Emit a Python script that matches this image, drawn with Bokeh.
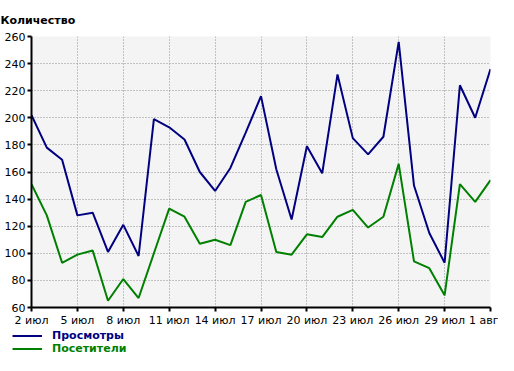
from bokeh.plotting import figure
from bokeh.layouts import column, row
from bokeh.models import Range1d, FixedTicker, Legend, LegendItem
from bokeh.embed import file_html
from bokeh.resources import INLINE

# Data (2 июл .. 1 авг)
days = list(range(31))
views = [202, 178, 169, 128, 130, 101, 121, 98, 199, 193, 184, 160, 146, 163, 189, 216,
         162, 125, 179, 159, 232, 185, 173, 186, 256, 150, 115, 93, 224, 200, 236]
visitors = [151, 128, 93, 99, 102, 65, 81, 67, 100, 133, 127, 107, 110, 106, 138, 143,
            101, 99, 114, 112, 127, 132, 119, 127, 166, 94, 89, 69, 151, 138, 154]
tick_pos = [0, 3, 6, 9, 12, 15, 18, 21, 24, 27, 30]
tick_labels = ["2 июл", "5 июл", "8 июл", "11 июл", "14 июл", "17 июл", "20 июл",
               "23 июл", "26 июл", "29 июл", "1 авг"]
y_ticks = [60, 80, 100, 120, 140, 160, 180, 200, 220, 240, 260]
series_names = ["Просмотры", "Посетители"]
series_colors = ["#000080", "#008000"]

FONT = "DejaVu Sans"

p = figure(width=498, height=329, output_backend="svg", toolbar_location=None,
           x_range=Range1d(0, 30), y_range=Range1d(60, 260),
           min_border_left=31, min_border_right=8, min_border_top=36, min_border_bottom=18)
p.background_fill_color = "#f4f4f4"
p.border_fill_color = "white"
p.outline_line_color = None

p.title.text = "Количество"
p.title.text_font = FONT
p.title.text_font_size = "11px"
p.title.text_font_style = "bold"
p.title.text_color = "black"
p.title.align = "left"
p.title.offset = -31
p.title.standoff = 19

for ax in (p.xaxis[0], p.yaxis[0]):
    ax.axis_line_color = "black"
    ax.axis_line_width = 2
    ax.major_tick_line_color = "black"
    ax.major_tick_line_width = 2
    ax.major_tick_in = 0
    ax.major_tick_out = 4
    ax.minor_tick_line_color = None
    ax.major_label_text_font = FONT
    ax.major_label_text_font_size = "11px"
    ax.major_label_text_color = "black"
    ax.major_label_standoff = 2

p.xaxis.ticker = FixedTicker(ticks=tick_pos)
p.xaxis.major_label_overrides = {t: l for t, l in zip(tick_pos, tick_labels)}
p.yaxis.ticker = FixedTicker(ticks=y_ticks)

p.grid.grid_line_color = "#909090"
p.grid.grid_line_dash = "1 2"
p.grid.grid_line_width = 1

p.line(days, views, line_color=series_colors[0], line_width=2)
p.line(days, visitors, line_color=series_colors[1], line_width=2)

# legend strip below the chart
q = figure(width=498, height=26, output_backend="svg", toolbar_location=None,
           x_axis_type=None, y_axis_type=None,
           x_range=Range1d(0, 30), y_range=Range1d(60, 260),
           min_border_left=0, min_border_right=0, min_border_top=0, min_border_bottom=0)
q.background_fill_color = "white"
q.border_fill_color = "white"
q.outline_line_color = None

for i, (vals, name, col) in enumerate(zip([views, visitors], series_names, series_colors)):
    r = q.line(days, vals, line_color=col, line_width=2, visible=False)
    lg = Legend(items=[LegendItem(label=name, renderers=[r])], location=(12, 13 - 13 * i))
    lg.label_text_font = FONT
    lg.label_text_font_size = "11px"
    lg.label_text_font_style = "bold"
    lg.label_text_color = col
    lg.label_height = 13
    lg.glyph_height = 13
    lg.glyph_width = 30
    lg.label_standoff = 10
    lg.padding = 0
    lg.margin = 0
    lg.spacing = 0
    lg.border_line_color = None
    lg.background_fill_alpha = 0
    lg.inactive_fill_alpha = 0
    q.add_layout(lg)

open("out.html", "w").write(file_html(column(p, row(q), spacing=0), INLINE))
